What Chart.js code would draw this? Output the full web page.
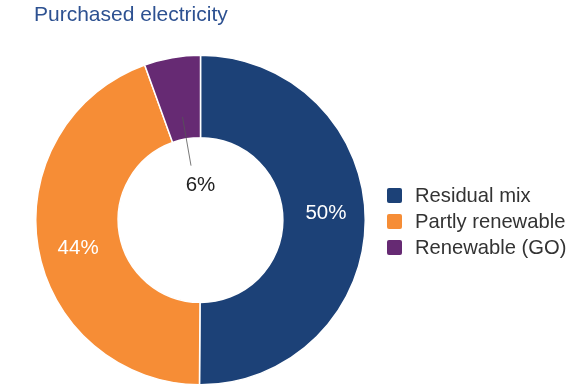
<!DOCTYPE html>
<html>
<head>
<meta charset="utf-8">
<script src="https://cdn.jsdelivr.net/npm/chart.js@4"></script>
<style>
  html, body { margin: 0; padding: 0; background: #fff; }
  #wrap { position: relative; width: 570px; height: 390px; overflow: hidden; }
  #c { position: absolute; left: 0; top: 0; }
  #title { position: absolute; left: 34px; top: 2px; font-family: "Liberation Sans", Arial, sans-serif; font-size: 21px; color: #2d5191; white-space: nowrap; }
  #legend { position: absolute; left: 387px; top: 182px; font-family: "Liberation Sans", Arial, sans-serif; font-size: 20.2px; color: #333; }
  .row { display: flex; align-items: center; height: 26px; white-space: nowrap; }
  .sw { width: 15px; height: 15px; border-radius: 2px; margin-right: 13px; flex: none; }
</style>
</head>
<body>
<div id="wrap">
  <canvas id="c" width="570" height="390"></canvas>
  <div id="title"></div>
  <div id="legend"></div>
</div>
<script>
const chartTitle = "Purchased electricity";
const categories = ["Residual mix", "Partly renewable", "Renewable (GO)"];
const shares = [50.1, 44.4, 5.5];
const sliceColors = ["#1c4177", "#f68d36", "#662a73"];

document.getElementById('title').textContent = chartTitle;
const legendEl = document.getElementById('legend');
categories.forEach((name, i) => {
  const row = document.createElement('div');
  row.className = 'row';
  const sw = document.createElement('span');
  sw.className = 'sw';
  sw.style.background = sliceColors[i];
  const tx = document.createElement('span');
  tx.textContent = name;
  row.appendChild(sw); row.appendChild(tx);
  legendEl.appendChild(row);
});

const labelPlugin = {
  id: 'sliceLabels',
  afterDatasetsDraw(chart) {
    const ctx = chart.ctx;
    const meta = chart.getDatasetMeta(0);
    const total = shares.reduce((a, b) => a + b, 0);
    ctx.save();
    ctx.font = '20.5px "Liberation Sans", Arial, sans-serif';
    ctx.textAlign = 'center';
    ctx.textBaseline = 'middle';
    meta.data.forEach((arc, i) => {
      const p = arc.getProps(['x', 'y', 'startAngle', 'endAngle', 'innerRadius', 'outerRadius'], true);
      const mid = (p.startAngle + p.endAngle) / 2;
      const txt = Math.round(shares[i] / total * 100) + '%';
      if (shares[i] / total < 0.1) {
        const r1 = p.innerRadius + (p.outerRadius - p.innerRadius) * 0.27;
        const r2 = p.innerRadius * 0.67;
        ctx.strokeStyle = '#555';
        ctx.lineWidth = 0.8;
        ctx.beginPath();
        ctx.moveTo(p.x + Math.cos(mid) * r1, p.y + Math.sin(mid) * r1);
        ctx.lineTo(p.x + Math.cos(mid) * r2, p.y + Math.sin(mid) * r2);
        ctx.stroke();
        ctx.fillStyle = '#222';
        ctx.fillText(txt, p.x, p.y - 35);
      } else {
        const r = (p.innerRadius + p.outerRadius) / 2 + 2;
        const a = mid - 0.055;
        ctx.fillStyle = '#fff';
        ctx.fillText(txt, p.x + Math.cos(a) * r, p.y + Math.sin(a) * r);
      }
    });
    ctx.restore();
  }
};

new Chart(document.getElementById('c'), {
  type: 'doughnut',
  data: {
    labels: categories,
    datasets: [{
      data: shares,
      backgroundColor: sliceColors,
      borderColor: '#fff',
      borderWidth: 1.5,
      hoverOffset: 0
    }]
  },
  options: {
    responsive: false,
    animation: false,
    cutout: '50%',
    layout: { padding: { left: 35, right: 204, top: 54, bottom: 4 } },
    plugins: { legend: { display: false }, tooltip: { enabled: false }, title: { display: false } }
  },
  plugins: [labelPlugin]
});
</script>
</body>
</html>
